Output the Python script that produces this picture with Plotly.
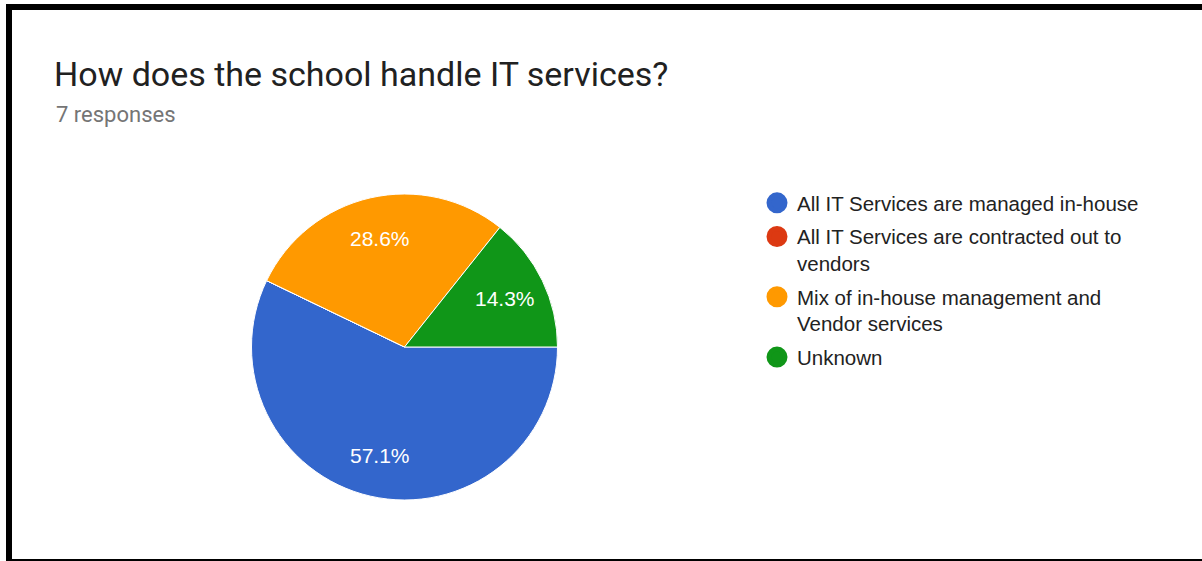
import math
import plotly.graph_objects as go

# Survey answers and response counts
categories = [
    "All IT Services are managed in-house",
    "All IT Services are contracted out to<br>vendors",
    "Mix of in-house management and<br>Vendor services",
    "Unknown",
]
counts = [4, 0, 2, 1]
colors = ["#3366cc", "#dc3912", "#ff9900", "#109618"]

W, H = 1202, 561
title_text = "How does the school handle IT services?"
subtitle_text = "7 responses"

# Pie placement in pixels
cx, cy, R = 404.5, 347.0, 153.0

fig = go.Figure()

# Pie slices, starting at 3 o'clock and going clockwise
fig.add_trace(go.Pie(
    labels=categories,
    values=counts,
    sort=False,
    direction="clockwise",
    rotation=90,
    marker=dict(colors=colors, line=dict(color="white", width=1)),
    textinfo="none",
    showlegend=False,
    hoverinfo="label+value+percent",
    domain=dict(x=[(cx - R) / W, (cx + R) / W],
                y=[(H - cy - R) / H, (H - cy + R) / H]),
))

# Percentage labels placed along each slice's middle angle
total = sum(counts)
annotations = []
start = 0.0
for c in counts:
    frac = c / total
    if c > 0:
        mid = (start + frac / 2) * 2 * math.pi  # clockwise from 3 o'clock
        px = cx + 0.73 * R * math.cos(mid)
        py = cy + 0.73 * R * math.sin(mid)
        annotations.append(dict(
            text=f"{frac * 100:.1f}%", x=px / W, y=1 - py / H,
            xref="paper", yref="paper", showarrow=False,
            xanchor="center", yanchor="middle",
            font=dict(family="Arial, Liberation Sans", size=21, color="white"),
        ))
    start += frac

annotations.append(dict(
    text=subtitle_text, x=54 / W, y=1 - 114 / H, xref="paper", yref="paper",
    xanchor="left", yanchor="middle", showarrow=False,
    font=dict(family="Roboto", size=22, color="#757575"),
))

# Legend entries with round keys
for name, color in zip(categories, colors):
    fig.add_trace(go.Scatter(
        x=[None], y=[None], mode="markers", name=name, legendgroup=name,
        marker=dict(symbol="circle", size=16, color=color,
                    line=dict(color=color, width=5)),
        hoverinfo="skip",
    ))

# Frame around the card
frame = [
    dict(x0=6 / W, x1=1, y0=1 - 10 / H, y1=1 - 4 / H),
    dict(x0=6 / W, x1=12 / W, y0=0, y1=1 - 4 / H),
    dict(x0=6 / W, x1=1, y0=0, y1=2 / H),
]
shapes = [dict(type="rect", xref="paper", yref="paper", line=dict(width=0),
               fillcolor="black", layer="above", **f) for f in frame]

fig.update_layout(
    width=W, height=H,
    margin=dict(l=0, r=0, t=0, b=0),
    paper_bgcolor="white", plot_bgcolor="white",
    xaxis=dict(visible=False), yaxis=dict(visible=False),
    shapes=shapes,
    annotations=annotations,
    title=dict(
        text=title_text,
        x=54 / W, xanchor="left", xref="container",
        y=1 - 74 / H, yanchor="middle", yref="container",
        font=dict(family="Roboto", size=34, color="#212121"),
    ),
    legend=dict(
        x=757 / W, xanchor="left", y=1 - 183 / H, yanchor="top",
        font=dict(family="Arial, Liberation Sans", size=20.5, color="#222222"),
        traceorder="grouped", tracegroupgap=4, valign="top",
        bgcolor="rgba(0,0,0,0)",
    ),
)

fig.write_html("out.html")
